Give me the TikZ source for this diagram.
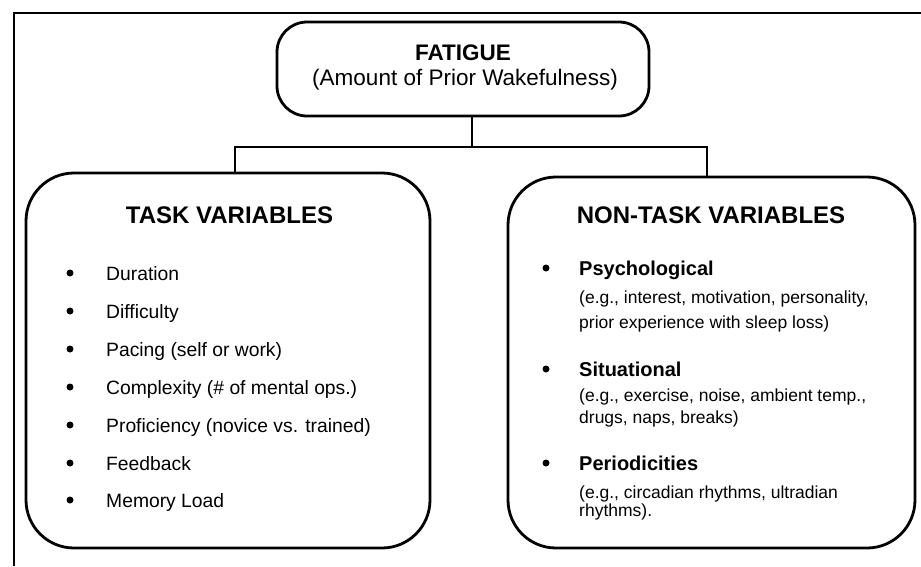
\documentclass[tikz,border=0pt]{standalone}
\usepackage{fontspec}
\setmainfont{Liberation Sans}
\begin{document}
\begin{tikzpicture}[x=1pt,y=-1pt,
  box/.style={draw, line width=2.8pt, rounded corners=48pt, inner sep=0},
  link/.style={line width=2pt},
  framel/.style={line width=1.5pt},
  item/.style={anchor=base west, inner sep=0, font=\fontsize{19.3}{21}\selectfont},
  bul/.style={circle, fill, inner sep=0, minimum size=7pt},
  head/.style={anchor=base, inner sep=0, font=\fontsize{24}{26}\selectfont\bfseries},
  sub/.style={anchor=base west, inner sep=0, font=\fontsize{17.5}{19}\selectfont},
  subhead/.style={anchor=base west, inner sep=0, font=\fontsize{20}{22}\selectfont\bfseries}]
\useasboundingbox (0,0) rectangle (921,566);
% outer frame (top and left only)
\coordinate (fa) at (14,566);
\coordinate (fb) at (14,13);
\coordinate (fc) at (921,13);
\draw[framel] (fa) -- (fb) -- (fc);

% boxes
\node[box, rounded corners=30pt, minimum width=372pt, minimum height=94pt] (fat) at (463,69) {};
\node[box, minimum width=404pt, minimum height=375pt] (task) at (228,360.5) {};
\node[box, minimum width=407pt, minimum height=371pt] (nontask) at (711.5,362.5) {};

% connectors
\coordinate (j) at (472,147);
\coordinate (jl) at (235,147);
\coordinate (jr) at (707,147);
\draw[link] (fat.south -| j) -- (j);
\draw[link] (jl |- task.north) -- (jl) -- (jr) -- (jr |- nontask.north);

% fatigue text
\node[anchor=base, inner sep=0, font=\fontsize{22.5}{24}\selectfont\bfseries] (ft) at (463,60) {FATIGUE};
\node[anchor=base, inner sep=0, font=\fontsize{22.5}{24}\selectfont] (fs) at (465,85) {(Amount of Prior Wakefulness)};

% task variables
\node[head] (th) at (229.5,223.5) {TASK VARIABLES};
\node[bul] (b1) at (70,273) {};
\node[item] (t1) at (106,280) {Duration};
\node[bul] (b2) at (70,311) {};
\node[item] (t2) at (106,318) {Difficulty};
\node[bul] (b3) at (70,349) {};
\node[item] (t3) at (106,356) {Pacing (self or work)};
\node[bul] (b4) at (70,387) {};
\node[item] (t4) at (106,394) {Complexity (\# of mental ops.)};
\node[bul] (b5) at (70,425) {};
\node[item] (t5) at (106,432) {Proficiency (novice vs. trained)};
\node[bul] (b6) at (70,463) {};
\node[item] (t6) at (106,470) {Feedback};
\node[bul] (b7) at (70,500) {};
\node[item] (t7) at (106,507) {Memory Load};

% non-task variables
\node[head] (nh) at (711,223.5) {NON-TASK VARIABLES};
\node[bul] (c1) at (546,268) {};
\node[subhead] (n1) at (579,275) {Psychological};
\node[sub] (n1a) at (579,303) {(e.g., interest, motivation, personality,};
\node[sub] (n1b) at (579,328) {prior experience with sleep loss)};
\node[bul] (c2) at (546,369) {};
\node[subhead] (n2) at (579,376) {Situational};
\node[sub] (n2a) at (579,401) {(e.g., exercise, noise, ambient temp.,};
\node[sub] (n2b) at (579,423) {drugs, naps, breaks)};
\node[bul] (c3) at (546,463) {};
\node[subhead] (n3) at (579,470) {Periodicities};
\node[sub] (n3a) at (579,498) {(e.g., circadian rhythms, ultradian};
\node[sub] (n3b) at (579,516) {rhythms).};
\end{tikzpicture}
\end{document}
